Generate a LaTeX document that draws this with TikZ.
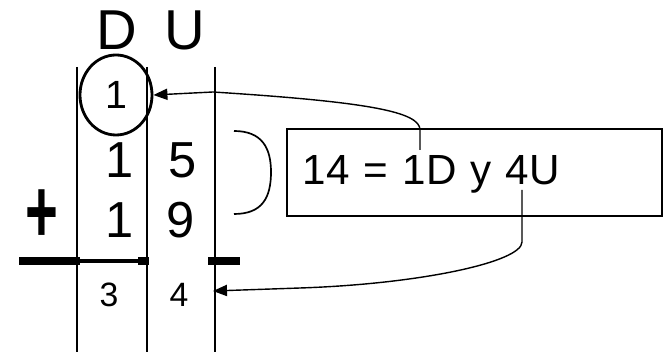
\documentclass[tikz,border=0pt]{standalone}
\usepackage{fontspec}
\setmainfont{Liberation Sans}
\usetikzlibrary{arrows.meta,positioning,shapes.geometric}

\begin{document}
\begin{tikzpicture}[x=0.025cm,y=-0.025cm,>={Triangle[length=3.5mm,width=2.8mm]},
  head/.style={font=\fontsize{40}{40}\selectfont,inner sep=0pt},
  digit/.style={font=\fontsize{36}{36}\selectfont,inner sep=0pt},
  small/.style={font=\fontsize{24}{24}\selectfont,inner sep=0pt},
  rule/.style={line width=1pt},
  bar/.style={line width=5pt},
  box/.style={draw,line width=1.4pt,minimum width=9.375cm,minimum height=2.175cm,
    inner xsep=0.4cm,text width=8.575cm,align=left,text depth=0.35em,
    font=\fontsize{30}{30}\selectfont}]
  \useasboundingbox (0,0) rectangle (664,352);
  \node[head] (hd) at (117,30) {D};
  \node[head] (hu) at (185,30) {U};
  \draw[rule] (77,67) -- (77,352);
  \draw[rule] (147,67) -- (147,352);
  \draw[rule] (215,67) -- (215,352);
  \node[ellipse,draw,line width=2pt,minimum width=1.8cm,minimum height=2cm,
    inner sep=0pt,font=\fontsize{28}{28}\selectfont] (c1) at (116,95) {1};
  \node[digit] (r1d) at (120,160) {1};
  \node[digit] (r1u) at (183,160) {5};
  \node[font=\fontsize{40}{40}\selectfont\bfseries,inner sep=0pt] (plus) at (42,216)
    {\scalebox{1}[1.6]{+}};
  \node[digit] (r2d) at (120,220) {1};
  \node[digit] (r2u) at (181,220) {9};
  \draw[bar] (19,261) -- (80,261);
  \draw[line width=2.8pt] (77,261) -- (147,261);
  \draw[bar] (138,261) -- (149,261);
  \draw[bar] (208,261) -- (240,261);
  \node[small] (sd) at (109,295) {3};
  \node[small] (su) at (179,295) {4};
  \node[box] (expl) at (474.5,172.5) {14 = 1D y 4U};
  \draw[line width=1.2pt] (234,131) .. controls (262,131) and (271,148) .. (271,172)
    .. controls (271,198) and (262,214) .. (234,214);
  \coordinate (from1) at (420,150);
  \coordinate (from4) at (522,190);
  \coordinate (to4) at (213,291);
  \draw[->,line width=1pt] (from1) -- (420,130) .. controls (420,112) and (370,102) .. (213,92) -- (c1.east);
  \draw[->,line width=1pt] (from4) -- (522,242) .. controls (522,262) and (420,284) .. (300,288) -- (to4);
\end{tikzpicture}
\end{document}
